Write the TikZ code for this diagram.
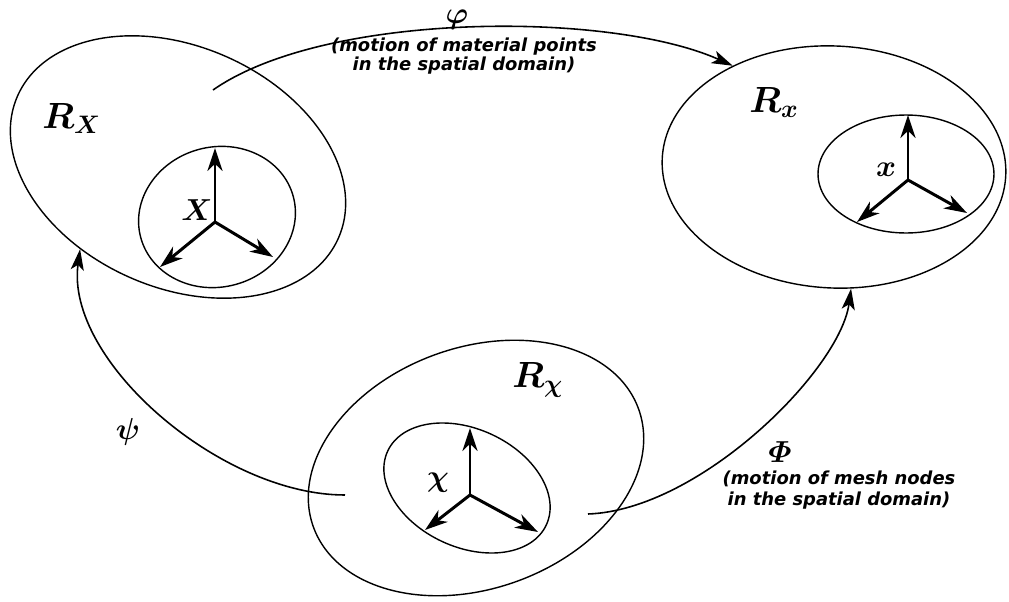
\documentclass[tikz,border=0pt]{standalone}
\usepackage{amsmath}
\usepackage{fontspec}
\usetikzlibrary{arrows.meta, shapes.geometric}
\newfontfamily\notefont{DejaVu Sans}

\begin{document}
\begin{tikzpicture}[
    x=0.02cm, y=-0.02cm,
    region/.style={ellipse, draw, line width=0.8pt, inner sep=0pt},
    axisarrow/.style={-{Stealth[length=13pt, width=8.5pt, inset=4pt]}, line width=1.7pt},
    maparrow/.style={-{Stealth[length=12pt, width=7.5pt, inset=3pt]}, line width=0.9pt},
    domlabel/.style={font=\fontsize{21}{25}\selectfont, inner sep=0pt},
    symlabel/.style={font=\fontsize{17}{20}\selectfont, inner sep=0pt},
    note/.style={font=\notefont\bfseries\itshape\fontsize{10.2}{9.6}\selectfont, align=center, inner sep=0pt}
]
\useasboundingbox (0,0) rectangle (1009,602);

% regions
\node[region, minimum width=7.02cm, minimum height=4.82cm, rotate=-24] (RX) at (178,167) {};
\node[region, minimum width=3.16cm, minimum height=2.8cm, rotate=15] (RXin) at (217,217) {};
\node[region, minimum width=6.88cm, minimum height=4.84cm, rotate=-3] (Rx) at (834,167) {};
\node[region, minimum width=3.52cm, minimum height=2.36cm] (Rxin) at (906,174) {};
\node[region, minimum width=6.92cm, minimum height=4.82cm, rotate=20] (Rchi) at (476,468) {};
\node[region, minimum width=3.5cm, minimum height=2.36cm, rotate=-25] (Rchiin) at (467,488) {};

\node[domlabel, anchor=base west] (lRX) at (42,128) {$\boldsymbol{R_X}$};
\node[domlabel, anchor=base west] (lRx) at (749,112) {$\boldsymbol{R_x}$};
\node[domlabel, anchor=base west] (lRchi) at (512,387) {$\boldsymbol{R_\chi}$};

% frames
\coordinate (OX) at (215,222);
\foreach \dx/\dy in {0/-74, -55/45, 58/35}
    \draw[axisarrow] (OX) -- ++(\dx,\dy);
\coordinate (Ox) at (908,180);
\foreach \dx/\dy in {0/-65, -51/42, 59/33}
    \draw[axisarrow] (Ox) -- ++(\dx,\dy);
\coordinate (Ochi) at (470,495);
\foreach \dx/\dy in {0/-67, -45/35, 68/37}
    \draw[axisarrow] (Ochi) -- ++(\dx,\dy);
\node[symlabel] (lX) at (197,210) {$\boldsymbol{X}$};
\node[symlabel] (lx) at (886,170) {$\boldsymbol{x}$};
\node[symlabel] (lchi) at (438,483) {$\boldsymbol{\chi}$};

% mappings
\coordinate (phistart) at (213,90);
\coordinate (Phistart) at (588,514);
\coordinate (psistart) at (345,495);
\draw[maparrow] (phistart) .. controls (326,11) and (611,11) .. (Rx.138);
\draw[maparrow] (Phistart) .. controls (700,510) and (840,370) .. (Rx.-79);
\draw[maparrow] (psistart) .. controls (220,495) and (65,360) .. (RX.244);
\node[symlabel] (lphi) at (457,20) {$\boldsymbol{\varphi}$};
\node[symlabel] (lpsi) at (128,432) {$\boldsymbol{\psi}$};
\node[symlabel] (lPhi) at (780,452) {$\boldsymbol{\varPhi}$};
\node[note] (nphi) at (464,56) {(motion of material points\\in the spatial domain)};
\node[note, font=\notefont\bfseries\itshape\fontsize{10.2}{12.3}\selectfont] (nPhi) at (839,490) {(motion of mesh nodes\\in the spatial domain)};
\end{tikzpicture}
\end{document}
